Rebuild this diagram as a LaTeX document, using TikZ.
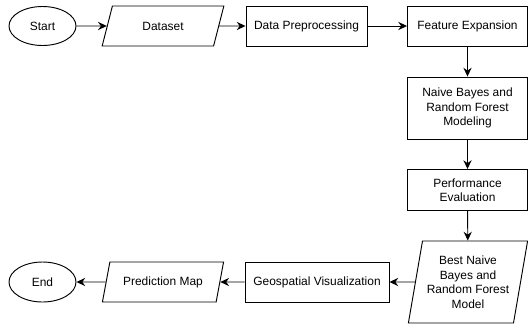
\documentclass[tikz,border=0pt]{standalone}
\usepackage{fontspec}
\setmainfont{Liberation Sans}
\usetikzlibrary{shapes.geometric,arrows.meta}

\tikzset{
  box/.style={draw, line width=0.8pt, inner sep=0pt, align=center,
    font=\fontsize{10.2}{12.4}\selectfont, minimum height=1.2cm},
  term/.style={box, ellipse, minimum width=2.01cm, minimum height=1.17cm},
  proc/.style={box, rectangle, minimum width=3.6cm},
  iobox/.style={box, trapezium, trapezium stretches=true,
    trapezium left angle=63.4, trapezium right angle=116.6, minimum width=3.66cm},
  flow/.style={line width=0.8pt, -{Stealth[length=7.5pt, width=7pt, inset=2.5pt]}}
}

\begin{document}
\begin{tikzpicture}[x=0.03cm, y=-0.03cm]
  \useasboundingbox (0,0) rectangle (528,327);

  % Top row
  \node[term] (start) at (42.5,26) {Start};
  \node[iobox] (data) at (163,26) {Dataset};
  \node[proc, minimum width=3.63cm] (prep) at (306.5,26) {Data Preprocessing};
  \node[proc] (feat) at (467.5,26) {Feature Expansion};

  % Right column
  \node[proc, minimum height=1.86cm] (model) at (467.5,108) {Naive Bayes and\\Random Forest\\Modeling};
  \node[proc, minimum height=1.23cm] (eval) at (467.5,190) {Performance\\Evaluation};
  \node[iobox, trapezium left angle=76.3, trapezium right angle=103.7,
    minimum width=3.6cm, minimum height=2.46cm] (best) at (468,282) {Best Naive\\Bayes and\\Random Forest\\Model};

  % Bottom row
  \node[proc, minimum width=4.32cm] (geo) at (317,282) {Geospatial Visualization};
  \node[iobox] (map) at (163,282) {Prediction Map};
  \node[term, minimum height=1.2cm] (stop) at (42.5,282) {End};

  % Connectors
  \foreach \a/\b in {start/data, data/prep, prep/feat, feat/model, model/eval,
                     eval/best, best/geo, geo/map, map/stop} {
    \draw[flow] (\a) -- (\b);
  }
\end{tikzpicture}
\end{document}
